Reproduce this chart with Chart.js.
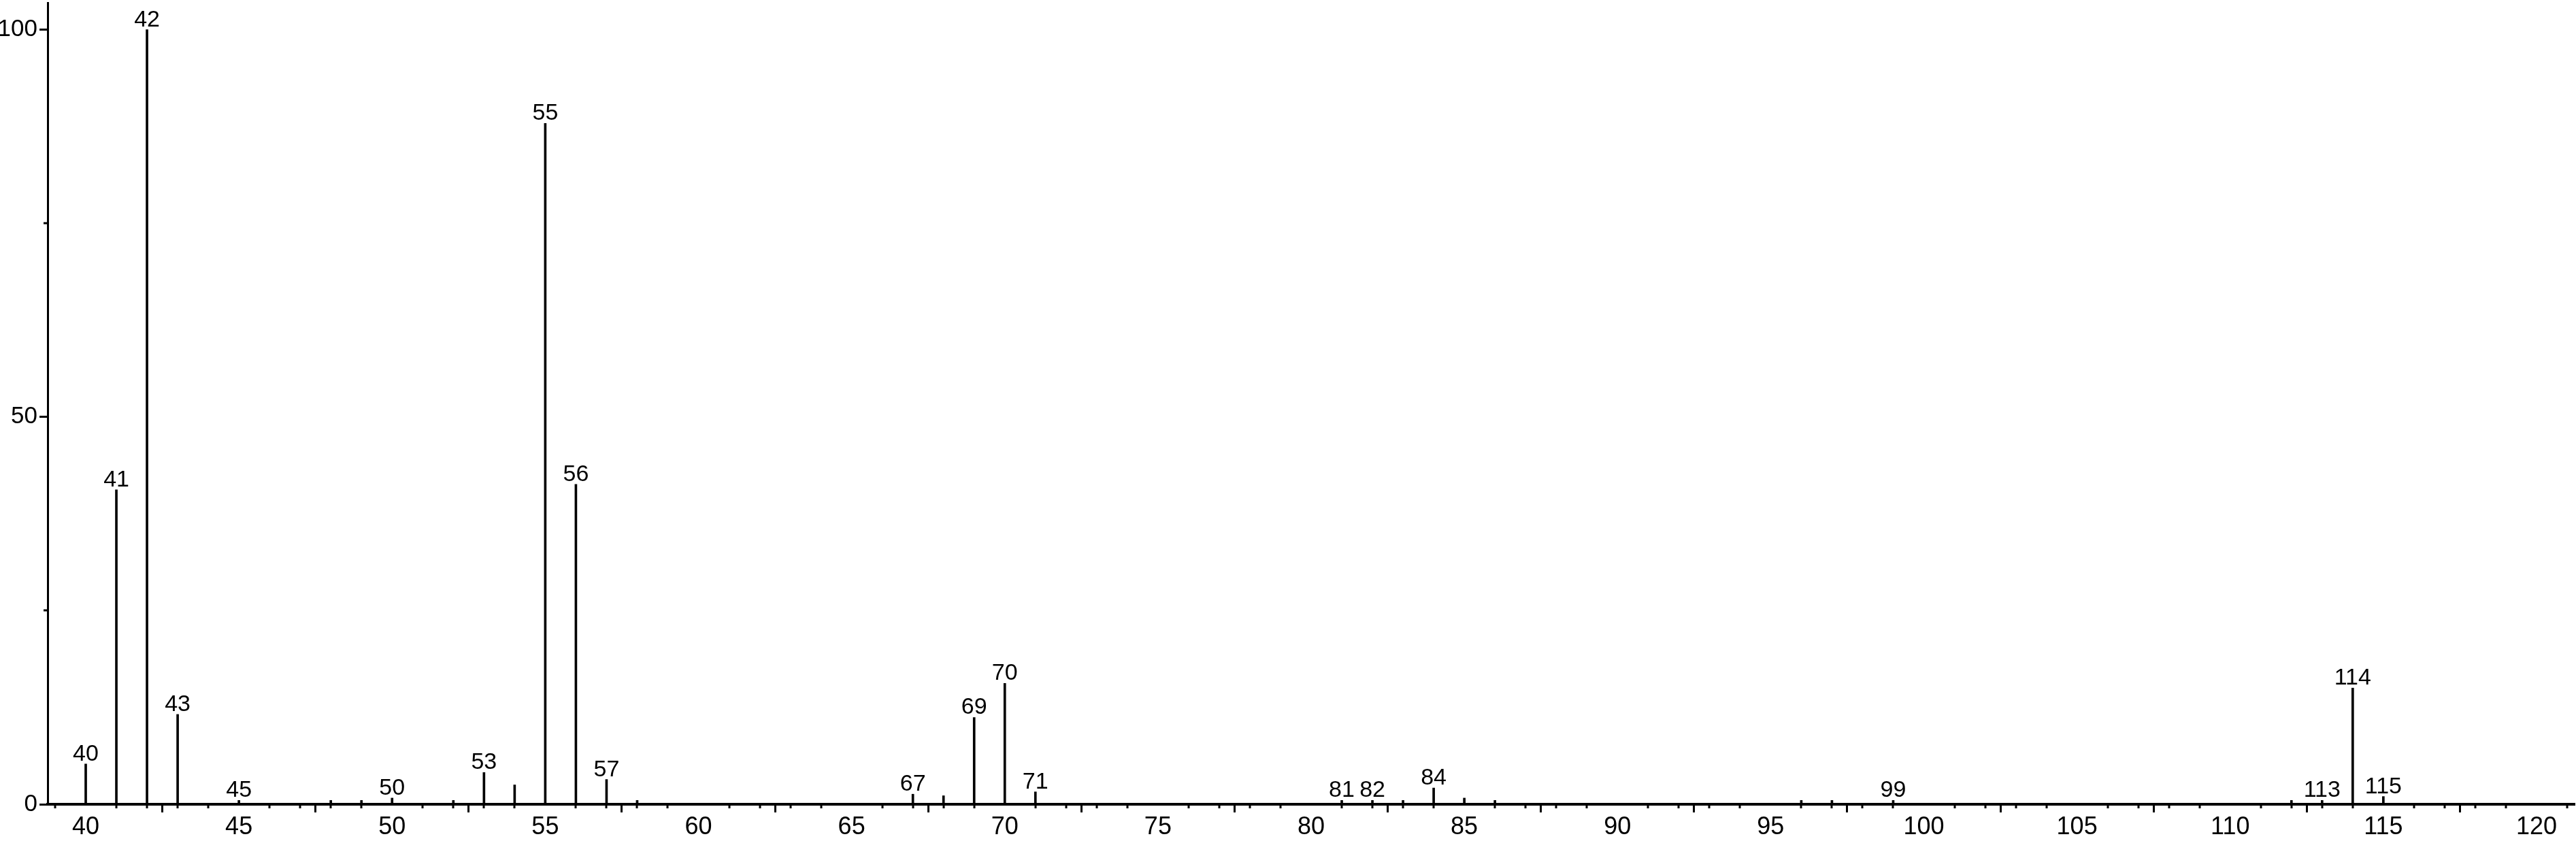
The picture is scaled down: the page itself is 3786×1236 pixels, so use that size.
<!DOCTYPE html>
<html>
<head>
<meta charset="utf-8">
<script src="https://cdn.jsdelivr.net/npm/chart.js"></script>
<style>
  html, body { margin: 0; padding: 0; background: #fff; }
  #wrap { width: 3786px; height: 1236px; }
</style>
</head>
<body>
<div id="wrap"><canvas id="spectrum" width="3786" height="1236"></canvas></div>
<script>
(function () {
    "use strict";

    // m/z values and relative intensities
    var masses = [40, 41, 42, 43, 45, 48, 49, 50, 52, 53, 54, 55, 56, 57, 58,
                  67, 68, 69, 70, 71, 81, 82, 83, 84, 85, 86, 96, 97, 99,
                  112, 113, 114, 115];
    var intensities = [5.2, 40.6, 100, 11.6, 0.5, 0.5, 0.5, 0.8, 0.5, 4.1, 2.5, 87.9, 41.3, 3.2, 0.5,
                       1.3, 1.1, 11.2, 15.6, 1.6, 0.5, 0.5, 0.5, 2.1, 0.8, 0.5, 0.5, 0.5, 0.5,
                       0.5, 0.5, 15.0, 1.0];
    // peaks that carry an m/z label
    var labeledMasses = [40, 41, 42, 43, 45, 50, 53, 55, 56, 57, 67, 69, 70, 71,
                         81, 82, 84, 99, 113, 114, 115];

    var xTicks = [40, 45, 50, 55, 60, 65, 70, 75, 80, 85, 90, 95, 100, 105, 110, 115, 120];
    var yTicks = [0, 50, 100];
    var yMinorTicks = [25, 75];

    var FONT = "'Liberation Sans', Arial, Helvetica, sans-serif";

    var points = masses.map(function (m, i) { return { x: m, y: intensities[i] }; });

    // minor ticks + peak labels
    var spectrumExtras = {
        id: "spectrumExtras",
        afterDraw: function (chart) {
            var ctx = chart.ctx;
            var xs = chart.scales.x, ys = chart.scales.y;
            var area = chart.chartArea;
            ctx.save();
            ctx.strokeStyle = "#000";
            ctx.lineWidth = 3;
            ctx.beginPath();
            for (var v = Math.ceil(xs.min); v <= Math.floor(xs.max); v++) {
                if (v % 5 === 0) continue;
                var px = Math.round(xs.getPixelForValue(v));
                ctx.moveTo(px, area.bottom);
                ctx.lineTo(px, area.bottom + 6);
            }
            yMinorTicks.forEach(function (t) {
                var py = Math.round(ys.getPixelForValue(t));
                ctx.moveTo(area.left - 6, py);
                ctx.lineTo(area.left, py);
            });
            ctx.stroke();

            var meta = chart.getDatasetMeta(0);
            ctx.fillStyle = "#000";
            ctx.font = "34px " + FONT;
            ctx.textAlign = "center";
            ctx.textBaseline = "alphabetic";
            meta.data.forEach(function (bar, i) {
                if (labeledMasses.indexOf(masses[i]) < 0) return;
                ctx.fillText(String(masses[i]), bar.x, bar.y - 5);
            });
            ctx.restore();
        }
    };

    new Chart(document.getElementById("spectrum"), {
        type: "bar",
        data: {
            datasets: [{
                data: points,
                backgroundColor: "#000",
                borderWidth: 0,
                barThickness: 3
            }]
        },
        options: {
            responsive: false,
            animation: false,
            events: [],
            layout: { padding: { top: 4, right: 2, left: 0, bottom: 0 } },
            plugins: { legend: { display: false }, tooltip: { enabled: false } },
            scales: {
                x: {
                    type: "linear",
                    offset: false,
                    min: 38.756,
                    max: 121.244,
                    afterBuildTicks: function (scale) {
                        scale.ticks = xTicks.map(function (v) { return { value: v }; });
                    },
                    afterFit: function (scale) {
                        scale.height = 54;
                        scale.paddingLeft = 0;
                        scale.paddingRight = 0;
                    },
                    border: { display: true, color: "#000", width: 4 },
                    grid: {
                        display: true,
                        drawOnChartArea: false,
                        drawTicks: true,
                        tickLength: 12,
                        tickWidth: 3,
                        tickColor: "#000"
                    },
                    ticks: {
                        autoSkip: false,
                        maxRotation: 0,
                        padding: 0,
                        color: "#000",
                        font: { family: FONT, size: 36 }
                    }
                },
                y: {
                    min: 0,
                    max: 103.47,
                    afterBuildTicks: function (scale) {
                        scale.ticks = yTicks.map(function (v) { return { value: v }; });
                    },
                    afterFit: function (scale) {
                        scale.width = 70;
                        scale.paddingTop = 0;
                        scale.paddingBottom = 0;
                    },
                    border: { display: true, color: "#000", width: 3 },
                    grid: {
                        display: true,
                        drawOnChartArea: false,
                        drawTicks: true,
                        tickLength: 12,
                        tickWidth: 3,
                        tickColor: "#000"
                    },
                    ticks: {
                        padding: 3,
                        color: "#000",
                        font: { family: FONT, size: 35 }
                    }
                }
            }
        },
        plugins: [spectrumExtras]
    });
})();
</script>
</body>
</html>
